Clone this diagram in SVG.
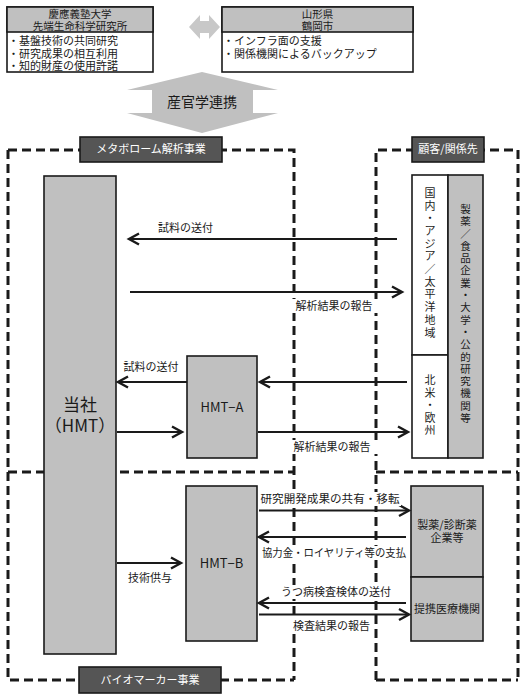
<svg xmlns="http://www.w3.org/2000/svg" width="527" height="699" viewBox="0 0 527 699">
<style>
text{font-family:"Noto Sans CJK JP","Noto Sans",sans-serif;fill:#1a1a1a}
.t11{font-size:11px}
.t10{font-size:10.5px}
.c{text-anchor:middle}
.box{fill:#c0c0c0;stroke:#1a1a1a;stroke-width:1.6}
.wbox{fill:#fff;stroke:#1a1a1a;stroke-width:1.6}
.dbox{fill:#555;stroke:#1a1a1a;stroke-width:1.6}
.dtxt{fill:#fff;font-size:11px;text-anchor:middle}
.dash{fill:none;stroke:#1a1a1a;stroke-width:3;stroke-dasharray:9 5}
.arr{stroke:#1a1a1a;stroke-width:2;fill:none;marker-end:url(#ah)}
.bg{fill:#fff}
</style>
<defs>
<marker id="ah" markerUnits="userSpaceOnUse" markerWidth="14" markerHeight="14" refX="11" refY="6" orient="auto" overflow="visible">
<path d="M1,0.5 L11,6 L1,11.5" fill="none" stroke="#1a1a1a" stroke-width="2.4"/>
</marker>
</defs>

<!-- dashed regions -->
<g id="regions">
<path class="dash" d="M8,150 H294 V680 M376,680 V150 H518 V680 M8,150 V680 H294 M376,680 H518 M8,472 H294 M376,472 H518"/>
</g>

<!-- top partner boxes -->
<g id="keio">
<rect class="wbox" x="7" y="7" width="146" height="65"/>
<rect class="box" x="7" y="7" width="146" height="25"/>
<text class="t10 c" x="80" y="18">慶應義塾大学</text>
<text class="t10 c" x="80" y="30">先端生命科学研究所</text>
<text class="t11" x="8" y="45">・基盤技術の共同研究</text>
<text class="t11" x="8" y="57.5">・研究成果の相互利用</text>
<text class="t11" x="8" y="70">・知的財産の使用許諾</text>
</g>
<g id="tsuruoka">
<rect class="wbox" x="222" y="7" width="191" height="65"/>
<rect class="box" x="222" y="7" width="191" height="25"/>
<text class="t10 c" x="317.5" y="18">山形県</text>
<text class="t10 c" x="317.5" y="30">鶴岡市</text>
<text class="t11" x="223" y="45">・インフラ面の支援</text>
<text class="t11" x="223" y="57.5">・関係機関によるバックアップ</text>
</g>
<g id="dblarrow">
<polygon points="189,27 200,15 200,21 209,21 209,15 220,27 209,39 209,33 200,33 200,39" fill="#c8c8c8"/>
</g>
<g id="sankangaku">
<polygon points="202,72 278,90 253,90 253,113 278,113 202,133 127,113 152,113 152,90 127,90" fill="#c0c0c0"/>
<text x="202" y="107" font-size="14" text-anchor="middle">産官学連携</text>
</g>

<!-- section labels -->
<g id="lbl-metabo">
<rect class="dbox" x="80" y="137" width="142" height="25"/>
<text class="dtxt" x="151" y="153">メタボローム解析事業</text>
</g>
<g id="lbl-customer">
<rect class="dbox" x="412" y="137" width="72" height="25"/>
<text class="dtxt" x="448" y="153">顧客/関係先</text>
</g>
<g id="lbl-bio">
<rect class="dbox" x="79" y="667" width="142" height="26"/>
<text class="dtxt" x="150" y="684">バイオマーカー事業</text>
</g>

<!-- nodes -->
<g id="hmt">
<rect class="box" x="44" y="176" width="72" height="478"/>
<text x="80" y="411" font-size="17" text-anchor="middle">当社</text>
<text x="80" y="432" font-size="17" text-anchor="middle">（HMT）</text>
</g>
<g id="hmt-a">
<rect class="box" x="187" y="356" width="70" height="102"/>
<text x="222" y="412" font-size="13" text-anchor="middle" font-family="Liberation Sans, sans-serif">HMT−A</text>
</g>
<g id="hmt-b">
<rect class="box" x="186" y="486" width="71" height="155"/>
<text x="221.5" y="568" font-size="13" text-anchor="middle" font-family="Liberation Sans, sans-serif">HMT−B</text>
</g>
<g id="domestic">
<rect class="wbox" x="412" y="175" width="36" height="180"/>
<text class="t11 c" x="430 430 430 430 430 430 430 430 430 430 430 430" y="197 210 222 235 248 260 273 286 298 311 324 337">国内・アジア／太平洋地域</text>
</g>
<g id="namerica">
<rect class="wbox" x="412" y="355" width="36" height="103"/>
<text class="t11 c" x="430 430 430 430 430" y="384 396.5 409 421.5 434">北米・欧州</text>
</g>
<g id="pharma-food">
<rect class="box" x="448" y="175" width="35" height="283"/>
<text class="t10 c" x="465.5 465.5 465.5 465.5 465.5 465.5 465.5 465.5 465.5 465.5 465.5 465.5 465.5 465.5 465.5 465.5 465.5 465.5" y="213 225 238 250 262 274 287 299 311 324 336 348 361 373 385 397 410 422">製薬／食品企業・大学・公的研究機関等</text>
</g>
<g id="pharma-diag">
<rect class="box" x="411" y="486" width="72" height="91"/>
<text class="t11 c" x="447" y="529">製薬/診断薬</text>
<text class="t11 c" x="447" y="542">企業等</text>
</g>
<g id="clinic">
<rect class="box" x="411" y="577" width="72" height="64"/>
<text class="t11 c" x="447" y="613">提携医療機関</text>
</g>

<!-- connectors -->
<g id="connectors">
<path class="arr" d="M397,239 H129"/>
<path class="arr" d="M130,292 H402"/>
<path class="arr" d="M187,382 H118"/>
<path class="arr" d="M407,382 H260"/>
<path class="arr" d="M117,432 H182"/>
<path class="arr" d="M258,432 H408"/>
<path class="arr" d="M259,510.5 H409"/>
<path class="arr" d="M406,537 H259"/>
<path class="arr" d="M117,563 H181"/>
<path class="arr" d="M406,603 H259"/>
<path class="arr" d="M259,614.5 H409"/>

<text class="t11 c" x="185.5" y="232">試料の送付</text>
<rect class="bg" x="292" y="299" width="86" height="14"/>
<text class="t11 c" x="334" y="310">解析結果の報告</text>
<text class="t11 c" x="151" y="371">試料の送付</text>
<rect class="bg" x="290" y="440" width="90" height="14"/>
<text class="t11 c" x="332" y="451">解析結果の報告</text>
<rect class="bg" x="259" y="492" width="142" height="14"/>
<text class="t11 c" x="330" y="503" textLength="139" lengthAdjust="spacingAndGlyphs">研究開発成果の共有・移転</text>
<rect class="bg" x="260" y="546" width="148" height="14"/>
<text class="t11 c" x="334" y="557" textLength="144" lengthAdjust="spacingAndGlyphs">協力金・ロイヤリティ等の支払</text>
<text class="t11 c" x="150" y="582">技術供与</text>
<rect class="bg" x="278" y="585" width="116" height="14"/>
<text class="t11 c" x="336" y="596">うつ病検査検体の送付</text>
<rect class="bg" x="290" y="619" width="84" height="14"/>
<text class="t11 c" x="331.5" y="630">検査結果の報告</text>
</g>
</svg>
